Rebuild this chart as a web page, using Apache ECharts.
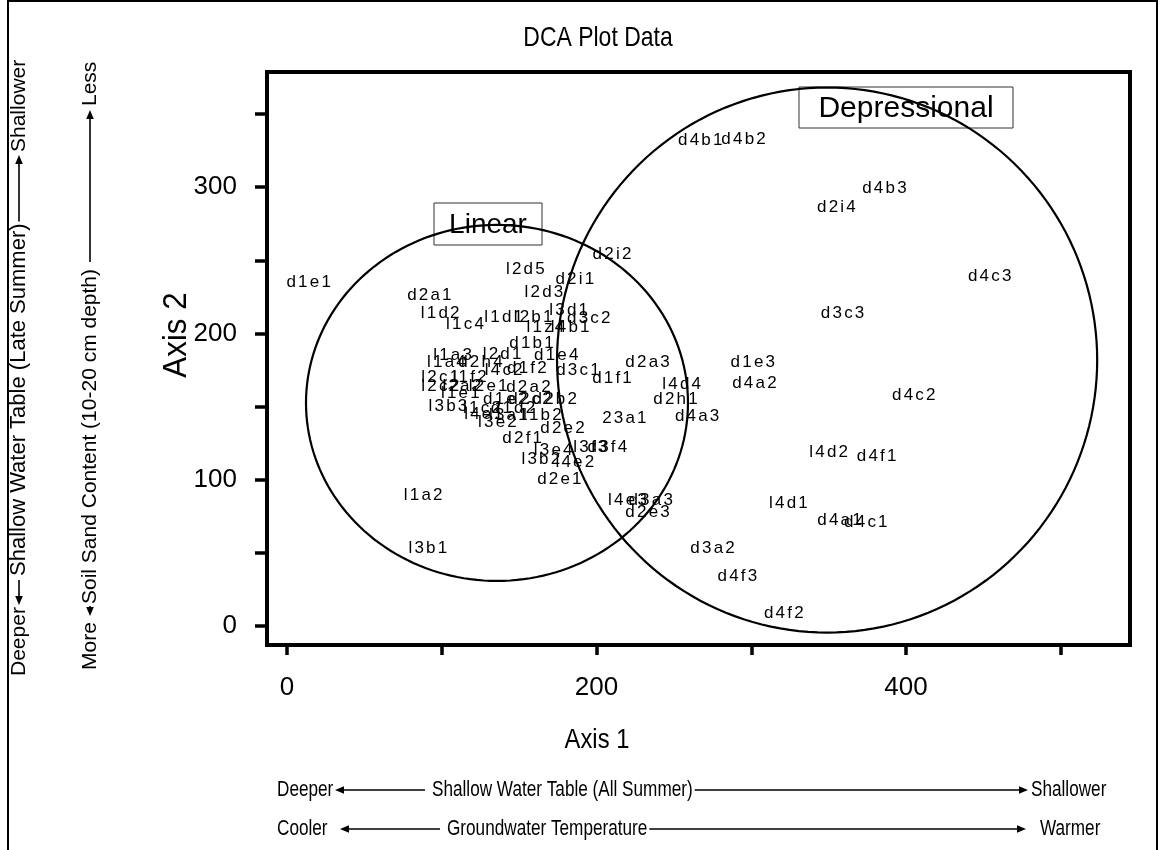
<!DOCTYPE html>
<html>
<head>
<meta charset="utf-8">
<title>DCA Plot Data</title>
<script src="https://cdn.jsdelivr.net/npm/echarts@6/dist/echarts.min.js"></script>
<style>
  html, body { margin: 0; padding: 0; background: #fff; }
  #chart { width: 1160px; height: 850px; }
</style>
</head>
<body>
<div id="chart"></div>
<script>
const FONT = '"Liberation Sans", Arial, Helvetica, sans-serif';

// Sample plots and their DCA ordination scores
const sampleNames = [
  'd1e1','d2a1','l1d2','l1c4','l1d1','l2b1','l3d1','d3c2','l1z4','l4b1',
  'l2d5','d2i1','l2d3','d2i2','d1b1','l2d1','d1e4','l1a3','l1a4','d2h4',
  'l4c2','d1f2','d3c1','d1f1','l2c1','l1f2','l2c2','l2a2','l2e1','d2a2',
  'l1e1','d1e2','d2c2','d2b2','l3b3','l1c2','d1d2','l1b2','l4e1','l3a1',
  'l3e2','d2e2','d2f1','l3e4','l3b2','l4e2','d2e1','l3f3','d3f4','23a1',
  'd2a3','l4d4','d2h1','d4a3','l4e3','d3a3','d2e3','d1e3','d4a2','d3c3',
  'd4c2','l4d2','d4f1','l4d1','d4a1','d4c1','d3a2','d4f3','d4f2','d4c3',
  'd4b3','d2i4','d4b1','d4b2','l1a2','l3b1'
];
const axis1Scores = [
  14, 92, 99, 115, 140, 159, 182, 195, 167, 183,
  154, 186, 166, 210, 158, 139, 174, 107, 103, 125,
  140, 155, 188, 210, 99, 118, 99, 113, 130, 156,
  112, 141, 157, 173, 104, 126, 146, 165, 127, 143,
  136, 178, 152, 172, 164, 186, 176, 196, 207, 218,
  233, 255, 251, 265, 220, 235, 233, 301, 302, 359,
  405, 350, 381, 324, 357, 374, 275, 291, 321, 454,
  386, 355, 267, 295, 88, 91
];
const axis2Scores = [
  235, 226, 214, 206, 211, 211, 216, 210, 204, 204,
  244, 237, 228, 254, 193, 186, 185, 185, 180, 180,
  175, 176, 175, 169, 170, 170, 164, 164, 164, 163,
  159, 155, 155, 155, 150, 149, 149, 144, 145, 144,
  139, 135, 128, 120, 114, 112, 100, 122, 122, 142,
  180, 165, 155, 143, 86, 86, 78, 180, 166, 214,
  158, 119, 116, 84, 72, 71, 53, 34, 9, 239,
  299, 286, 332, 333, 89, 53
];

// Site-type envelopes (centre and radii in axis units)
const groupNames   = ['Linear', 'Depressional'];
const groupCenterX = [135.7, 349.0];
const groupCenterY = [152.5, 181.8];
const groupRadiusX = [123.4, 174.5];
const groupRadiusY = [121.7, 186.3];

// Axis ticks and labels
const xTickValues  = [0, 100, 200, 300, 400, 500];
const xLabelValues = [0, 200, 400];
const yTickValues  = [0, 50, 100, 150, 200, 250, 300, 350];
const yLabelValues = [0, 100, 200, 300];

const measureCtx = document.createElement('canvas').getContext('2d');
function textWidth(text, size, family) {
  measureCtx.font = size + 'px ' + family;
  return measureCtx.measureText(text).width;
}

// Condensed face for tick labels when the system has one
function fontAvailable(name) {
  const sample = 'Shallow Water 0123456789';
  return textWidth(sample, 40, '"' + name + '", monospace') !== textWidth(sample, 40, 'monospace');
}
const NARROW_OK = fontAvailable('Liberation Sans Narrow');
const TICK_FONT = NARROW_OK ? '"Liberation Sans Narrow", ' + FONT : FONT;
const TICK_SIZE = NARROW_OK ? 30 : 26;

const chart = echarts.init(document.getElementById('chart'), null, { renderer: 'canvas' });

// Text drawn horizontally condensed (sx < 1) around its anchor
function txt(x, y, text, size, sx, rotation, align) {
  return {
    type: 'text', x: x, y: y, rotation: rotation || 0, scaleX: sx,
    style: { text: text, fontSize: size, fontFamily: FONT, fill: '#000',
             align: align || 'center', verticalAlign: 'middle' }
  };
}

// One annotation line: words and arrows laid out along a local x axis.
// An arrow whose tail is 'after' starts right where the preceding words end.
function arrowRow(x, y, rotation, size, sx, parts) {
  const children = [];
  let lastEnd = 0;
  parts.forEach(function (p) {
    if (p.text !== undefined) {
      const s = p.size || size;
      children.push(txt(p.at, 0, p.text, s, sx, 0, 'left'));
      lastEnd = p.at + textWidth(p.text, s, FONT) * sx;
    } else {
      const tail = p.tail === 'after' ? lastEnd + 2 : p.tail;
      const dir = Math.sign(p.tip - tail);
      children.push({
        type: 'line',
        shape: { x1: tail, y1: 0, x2: p.tip - dir * 6, y2: 0 },
        style: { stroke: '#000', lineWidth: 1.6 }
      });
      children.push({
        type: 'polygon',
        shape: { points: [[p.tip, 0], [p.tip - dir * 9, -3.8], [p.tip - dir * 9, 3.8]] },
        style: { fill: '#000' }
      });
    }
  });
  return { type: 'group', x: x, y: y, rotation: rotation, children: children };
}

function labelBox(left, top, w, h, text, size) {
  return {
    type: 'group', x: left, y: top, z: 100,
    children: [
      { type: 'rect', shape: { x: 0, y: 0, width: w, height: h },
        style: { fill: '#fff', stroke: '#333', lineWidth: 1 } },
      { type: 'text', x: w / 2, y: h / 2 + 1,
        style: { text: text, fontSize: size, fontFamily: FONT, fill: '#000', align: 'center', verticalAlign: 'middle' } }
    ]
  };
}

const option = {
  backgroundColor: '#fff',
  animation: false,
  grid: {
    left: 267, top: 72, width: 863, height: 573,
    show: true, borderColor: '#000', borderWidth: 4, backgroundColor: 'transparent'
  },
  xAxis: {
    type: 'value', min: -12.9, max: 544.7,
    axisLine: { show: false, onZero: false },
    splitLine: { show: false },
    axisTick: { show: true, customValues: xTickValues, length: 10, lineStyle: { color: '#000', width: 3.5 } },
    axisLabel: { customValues: xLabelValues, fontSize: TICK_SIZE, fontFamily: TICK_FONT, color: '#000', margin: 30 }
  },
  yAxis: {
    type: 'value', min: -13.0, max: 378.7,
    axisLine: { show: false, onZero: false },
    splitLine: { show: false },
    axisTick: { show: true, customValues: yTickValues, length: 12, lineStyle: { color: '#000', width: 3.5 } },
    axisLabel: { customValues: yLabelValues, fontSize: TICK_SIZE, fontFamily: TICK_FONT, color: '#000', margin: 30 }
  },
  series: [
    {
      type: 'custom',
      name: 'envelopes',
      silent: true,
      clip: false,
      z: 2,
      encode: { x: 0, y: 1 },
      data: groupNames.map(function (g, i) {
        return [groupCenterX[i], groupCenterY[i], groupRadiusX[i], groupRadiusY[i]];
      }),
      renderItem: function (params, api) {
        const cx = api.value(0), cy = api.value(1), rx = api.value(2), ry = api.value(3);
        const pts = [];
        for (let k = 0; k <= 180; k++) {
          const t = k / 180 * Math.PI * 2;
          pts.push(api.coord([cx + rx * Math.cos(t), cy + ry * Math.sin(t)]));
        }
        return { type: 'polyline', shape: { points: pts }, style: { stroke: '#000', lineWidth: 2.2, fill: null } };
      }
    },
    {
      type: 'scatter',
      name: 'plots',
      silent: true,
      z: 3,
      symbolSize: 1,
      itemStyle: { color: 'rgba(0,0,0,0)', opacity: 1 },
      emphasis: { disabled: true },
      data: sampleNames.map(function (n, i) {
        return { name: n, value: [axis1Scores[i], axis2Scores[i]] };
      }),
      label: {
        show: true,
        position: 'inside',
        color: '#000',
        opacity: 1,
        textBorderWidth: 0,
        formatter: function (p) {
          return p.name.split('').map(function (ch) { return '{c|' + ch + '}'; }).join('');
        },
        rich: { c: { fontSize: 17, fontFamily: FONT, color: '#000', textBorderWidth: 0, padding: [0, 1.1, 0, 1.1] } }
      },
      labelLayout: { hideOverlap: false }
    }
  ],
  graphic: [
    { type: 'rect', shape: { x: 8, y: 1, width: 1149, height: 900 },
      style: { fill: null, stroke: '#000', lineWidth: 2 }, silent: true },
    txt(598, 38, 'DCA Plot Data', 28, 0.82),
    txt(597, 740, 'Axis 1', 28, 0.85),
    txt(177, 335, 'Axis 2', 33, 0.95, Math.PI / 2),
    labelBox(434, 203, 108, 42, 'Linear', 28),
    labelBox(799, 87, 214, 41, 'Depressional', 30),
    arrowRow(277, 790, 0, 22, 0.78, [
      { text: 'Deeper', at: 0 },
      { tip: 58, tail: 148 },
      { text: 'Shallow Water Table (All Summer)', at: 155 },
      { tail: 'after', tip: 751 },
      { text: 'Shallower', at: 754 }
    ]),
    arrowRow(277, 829, 0, 22, 0.78, [
      { text: 'Cooler', at: 0 },
      { tip: 63, tail: 163 },
      { text: 'Groundwater Temperature', at: 170 },
      { tail: 'after', tip: 749 },
      { text: 'Warmer', at: 763 }
    ]),
    arrowRow(19, 676, Math.PI / 2, 21, 1, [
      { text: 'Deeper', at: 0 },
      { tip: 71, tail: 96 },
      { text: 'Shallow Water Table (Late Summer)', at: 100, size: 22 },
      { tail: 'after', tip: 521 },
      { text: 'Shallower', at: 524 }
    ]),
    arrowRow(90, 670, Math.PI / 2, 21, 1, [
      { text: 'More', at: 0 },
      { tip: 54, tail: 64 },
      { text: 'Soil Sand Content (10-20 cm depth)', at: 66 },
      { tail: 408, tip: 560 },
      { text: 'Less', at: 564 }
    ])
  ]
};

chart.setOption(option);
</script>
</body>
</html>
